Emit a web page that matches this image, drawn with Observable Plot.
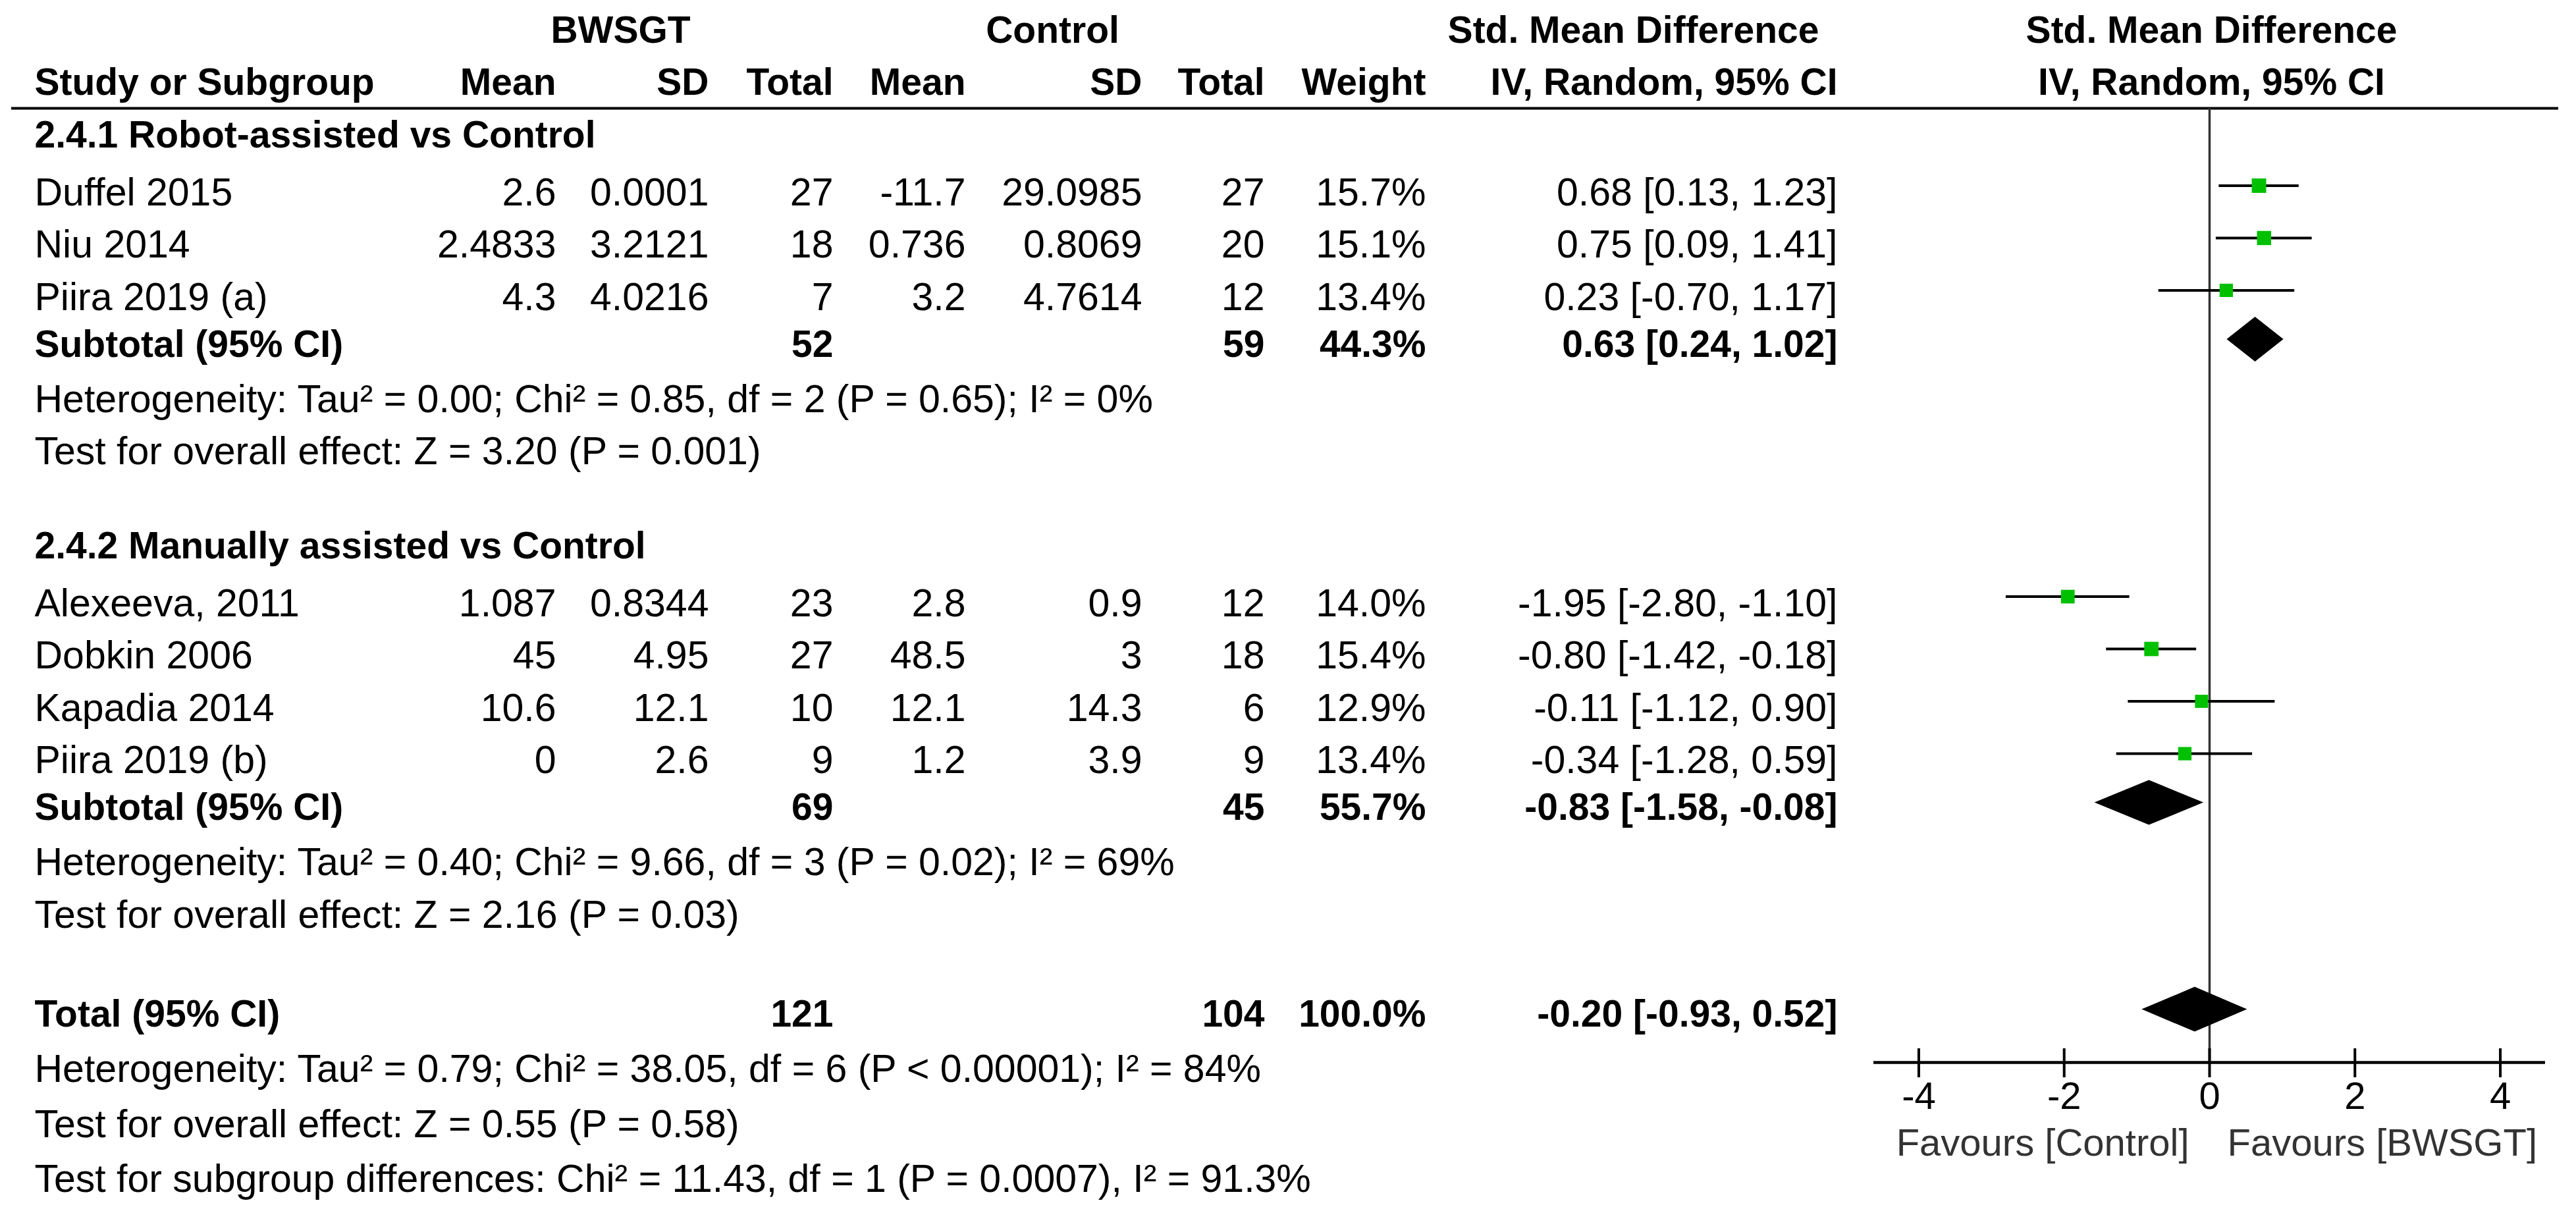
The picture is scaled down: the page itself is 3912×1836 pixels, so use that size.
<!DOCTYPE html>
<html>
<head>
<meta charset="utf-8">
<script src="https://cdn.jsdelivr.net/npm/d3@7"></script>
<script src="https://cdn.jsdelivr.net/npm/@observablehq/plot@0.6"></script>
<style>
  html, body { margin: 0; padding: 0; background: #fff; }
  #wrap { position: relative; width: 3912px; height: 1836px; background: #fff; overflow: hidden; }
  #wrap svg { position: absolute; top: 0; }
</style>
</head>
<body>
<div id="wrap"></div>
<script>
// ---------- DATA ----------
const groupNames = ["2.4.1 Robot-assisted vs Control", "2.4.2 Manually assisted vs Control"];
const studyNames = ["Duffel 2015", "Niu 2014", "Piira 2019 (a)", "Alexeeva, 2011", "Dobkin 2006", "Kapadia 2014", "Piira 2019 (b)"];
const studyGroup = [0, 0, 0, 1, 1, 1, 1];
const bwsgtMean = ["2.6", "2.4833", "4.3", "1.087", "45", "10.6", "0"];
const bwsgtSD = ["0.0001", "3.2121", "4.0216", "0.8344", "4.95", "12.1", "2.6"];
const bwsgtTotal = [27, 18, 7, 23, 27, 10, 9];
const controlMean = ["-11.7", "0.736", "3.2", "2.8", "48.5", "12.1", "1.2"];
const controlSD = ["29.0985", "0.8069", "4.7614", "0.9", "3", "14.3", "3.9"];
const controlTotal = [27, 20, 12, 12, 18, 6, 9];
const studyWeight = [15.7, 15.1, 13.4, 14.0, 15.4, 12.9, 13.4];
const studySMD = [0.68, 0.75, 0.23, -1.95, -0.80, -0.11, -0.34];
const studyLo = [0.13, 0.09, -0.70, -2.80, -1.42, -1.12, -1.28];
const studyHi = [1.23, 1.41, 1.17, -1.10, -0.18, 0.90, 0.59];

const subBwsgtTotal = [52, 69];
const subControlTotal = [59, 45];
const subWeight = [44.3, 55.7];
const subSMD = [0.63, -0.83];
const subLo = [0.24, -1.58];
const subHi = [1.02, -0.08];
const subHeterogeneity = [
  "Heterogeneity: Tau² = 0.00; Chi² = 0.85, df = 2 (P = 0.65); I² = 0%",
  "Heterogeneity: Tau² = 0.40; Chi² = 9.66, df = 3 (P = 0.02); I² = 69%"
];
const subOverall = [
  "Test for overall effect: Z = 3.20 (P = 0.001)",
  "Test for overall effect: Z = 2.16 (P = 0.03)"
];

const totalBwsgt = 121;
const totalControl = 104;
const totalWeight = 100.0;
const totalSMD = -0.20;
const totalLo = -0.93;
const totalHi = 0.52;
const totalHeterogeneity = "Heterogeneity: Tau² = 0.79; Chi² = 38.05, df = 6 (P < 0.00001); I² = 84%";
const totalOverall = "Test for overall effect: Z = 0.55 (P = 0.58)";
const subgroupDifferences = "Test for subgroup differences: Chi² = 11.43, df = 1 (P = 0.0007), I² = 91.3%";

const xTicks = [-4, -2, 0, 2, 4];
const favourLabels = ["Favours [Control]", "Favours [BWSGT]"];
const headerTop = ["BWSGT", "Control", "Std. Mean Difference", "Std. Mean Difference"];
const headerCols = ["Study or Subgroup", "Mean", "SD", "Total", "Mean", "SD", "Total", "Weight", "IV, Random, 95% CI", "IV, Random, 95% CI"];

// ---------- LAYOUT ----------
const W = 3912, H = 1836;
const FONT = "'Liberation Sans', Arial, sans-serif";
const FS = 59, FS_BOLD = 57, FS_AXIS = 58;
const yScale = {domain: [-2, 20], range: [46, 1795]};
const PX_PER_ROW = (yScale.range[1] - yScale.range[0]) / (yScale.domain[1] - yScale.domain[0]);
const rowOf = px => yScale.domain[0] + (px - yScale.range[0]) / PX_PER_ROW;
const RULE_K = rowOf(164);
const AXIS_PX = 1613;
const AXIS_K = rowOf(AXIS_PX);
// table column anchors (pixels)
const col = {study: 52, bMean: 844, bSD: 1076, bTot: 1265, cMean: 1466, cSD: 1734, cTot: 1920, weight: 2165, ci: 2790,
  hB: 942, hC: 1598, hSMD: 2480, hPlot: 3358};
const fmtCI = (e, l, h) => `${e.toFixed(2)} [${l.toFixed(2)}, ${h.toFixed(2)}]`;

// build rows
const cells = [];   // {k, x, text, bold, anchor}
const studies = [];
const diamonds = [];
const add = (k, x, text, bold, anchor) => cells.push({k, x, text: String(text), bold, anchor});

// headers
add(-2, col.hB, headerTop[0], true, "middle");
add(-2, col.hC, headerTop[1], true, "middle");
add(-2, col.hSMD, headerTop[2], true, "middle");
add(-2, col.hPlot, headerTop[3], true, "middle");
const hx = [col.study, col.bMean, col.bSD, col.bTot, col.cMean, col.cSD, col.cTot, col.weight, col.ci, col.hPlot];
headerCols.forEach((t, i) => add(-1, hx[i], t, true, i === 0 ? "start" : (i === 9 ? "middle" : "end")));

let k = 0;
groupNames.forEach((g, gi) => {
  if (gi > 0) k += 1.8;
  add(k, col.study, g, true, "start");
  let first = true;
  studyNames.forEach((s, i) => {
    if (studyGroup[i] !== gi) return;
    k += first ? 1.1 : 1; first = false;
    add(k, col.study, s, false, "start");
    add(k, col.bMean, bwsgtMean[i], false, "end");
    add(k, col.bSD, bwsgtSD[i], false, "end");
    add(k, col.bTot, bwsgtTotal[i], false, "end");
    add(k, col.cMean, controlMean[i], false, "end");
    add(k, col.cSD, controlSD[i], false, "end");
    add(k, col.cTot, controlTotal[i], false, "end");
    add(k, col.weight, studyWeight[i].toFixed(1) + "%", false, "end");
    add(k, col.ci, fmtCI(studySMD[i], studyLo[i], studyHi[i]), false, "end");
    studies.push({k, est: studySMD[i], lo: studyLo[i], hi: studyHi[i], w: studyWeight[i]});
  });
  k += 0.9;
  add(k, col.study, "Subtotal (95% CI)", true, "start");
  add(k, col.bTot, subBwsgtTotal[gi], true, "end");
  add(k, col.cTot, subControlTotal[gi], true, "end");
  add(k, col.weight, subWeight[gi].toFixed(1) + "%", true, "end");
  add(k, col.ci, fmtCI(subSMD[gi], subLo[gi], subHi[gi]), true, "end");
  diamonds.push({k, est: subSMD[gi], lo: subLo[gi], hi: subHi[gi], id: "s" + gi});
  k += 1.05;
  add(k, col.study, subHeterogeneity[gi], false, "start");
  k += 1;
  add(k, col.study, subOverall[gi], false, "start");
});
k += 1.9;
add(k, col.study, "Total (95% CI)", true, "start");
add(k, col.bTot, totalBwsgt, true, "end");
add(k, col.cTot, totalControl, true, "end");
add(k, col.weight, totalWeight.toFixed(1) + "%", true, "end");
add(k, col.ci, fmtCI(totalSMD, totalLo, totalHi), true, "end");
diamonds.push({k, est: totalSMD, lo: totalLo, hi: totalHi, id: "t"});
k += 1.05;
add(k, col.study, totalHeterogeneity, false, "start");
k += 1.05;
add(k, col.study, totalOverall, false, "start");
k += 1.05;
add(k, col.study, subgroupDifferences, false, "start");

// text marks grouped by weight & anchor
const textMarks = [];
for (const bold of [false, true]) for (const anchor of ["start", "middle", "end"]) {
  const sub = cells.filter(c => c.bold === bold && c.anchor === anchor);
  if (!sub.length) continue;
  textMarks.push(Plot.text(sub, {x: "x", y: "k", text: "text", textAnchor: anchor, fontSize: bold ? FS_BOLD : FS,
    fontWeight: bold ? "bold" : "normal", fill: "#000", fontFamily: FONT}));
}

const table = Plot.plot({
  width: W, height: H, margin: 0,
  x: {type: "identity", axis: null},
  y: {...yScale, axis: null},
  style: {fontFamily: FONT, fontSize: FS + "px", background: "transparent", color: "#000"},
  marks: [
    Plot.ruleY([RULE_K], {x1: 17, x2: 3885, stroke: "#000", strokeWidth: 4}),
    ...textMarks
  ]
});

// ---------- FOREST ----------
const PL = 2800;
const H_DIAMOND = 34 / PX_PER_ROW;
const MARK_DY = -11, DIAMOND_DY = -8;
const diamondPts = diamonds.flatMap(d => [
  {id: d.id, x: d.lo, y1: d.k, y2: d.k},
  {id: d.id, x: d.est, y1: d.k - H_DIAMOND, y2: d.k + H_DIAMOND},
  {id: d.id, x: d.hi, y1: d.k, y2: d.k}
]);

const forest = Plot.plot({
  width: W - PL, height: H,
  marginLeft: 2845 - PL, marginRight: W - 3865, marginTop: 46, marginBottom: H - AXIS_PX,
  x: {domain: [-4.62, 4.62], label: null},
  y: {...yScale, axis: null},
  r: {type: "sqrt", domain: [0, 16], range: [0, 12.5]},
  style: {fontFamily: FONT, fontSize: FS_AXIS + "px", background: "transparent", color: "#000", overflow: "visible"},
  marks: [
    Plot.ruleX([0], {y1: RULE_K, y2: AXIS_K, stroke: "#333", strokeWidth: 3.5}),
    Plot.ruleY(studies, {y: "k", x1: "lo", x2: "hi", stroke: "#000", strokeWidth: 4, dy: MARK_DY}),
    Plot.dot(studies, {x: "est", y: "k", r: "w", symbol: "square", fill: "#00c000", stroke: null, dy: MARK_DY}),
    Plot.areaY(diamondPts, {x: "x", y1: "y1", y2: "y2", z: "id", fill: "#000", curve: "linear", dy: DIAMOND_DY}),
    Plot.ruleY([AXIS_K], {stroke: "#000", strokeWidth: 4.5}),
    Plot.ruleX(xTicks, {x: d => d, y1: AXIS_K - 21 / PX_PER_ROW, y2: AXIS_K, stroke: "#000", strokeWidth: 4}),
    Plot.axisX({ticks: xTicks, tickFormat: d => String(d), tickSize: 23, tickPadding: 6, strokeWidth: 4,
      fontSize: FS_AXIS, label: null, fill: "#000", fontFamily: FONT}),
    Plot.text([favourLabels[0]], {x: () => 0, y: () => AXIS_K + 123 / PX_PER_ROW, text: d => d, textAnchor: "end", dx: -31,
      fontSize: FS_AXIS, fill: "#333", fontFamily: FONT}),
    Plot.text([favourLabels[1]], {x: () => 0, y: () => AXIS_K + 123 / PX_PER_ROW, text: d => d, textAnchor: "start", dx: 27,
      fontSize: FS_AXIS, fill: "#333", fontFamily: FONT})
  ]
});

const wrap = document.getElementById("wrap");
table.style.left = "0px";
forest.style.left = PL + "px";
wrap.appendChild(table);
wrap.appendChild(forest);
</script>
</body>
</html>
